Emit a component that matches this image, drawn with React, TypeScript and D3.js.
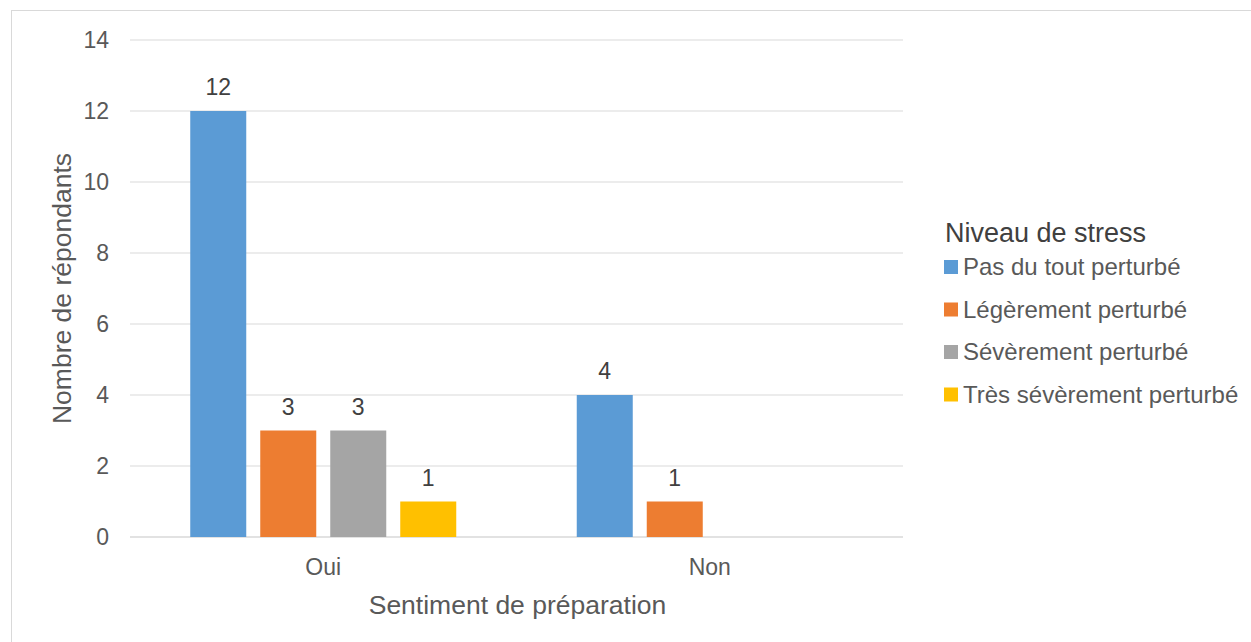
import React, { useEffect, useRef } from 'react';
import * as d3 from 'd3';

const categories = ['Oui', 'Non'];
const seriesNames = ['Pas du tout perturbé', 'Légèrement perturbé', 'Sévèrement perturbé', 'Très sévèrement perturbé'];
const seriesColors = ['#5B9BD5', '#ED7D31', '#A5A5A5', '#FFC000'];
const pasDuTout = [12, 4];
const legerement = [3, 1];
const severement = [3, 0];
const tresSeverement = [1, 0];
const yTicks = [0, 2, 4, 6, 8, 10, 12, 14];

const seriesValues = [pasDuTout, legerement, severement, tresSeverement];

export default function App() {
  const svgRef = useRef<SVGSVGElement>(null);

  useEffect(() => {
    document.body.style.margin = '0';
    if (!svgRef.current) return;
    const width = 1251;
    const height = 642;
    const plot = { left: 130, right: 903, top: 40, bottom: 537 };
    const font = '"Liberation Sans", Arial, sans-serif';
    const textColor = '#595959';

    const svg = d3.select(svgRef.current)
      .attr('width', width)
      .attr('height', height)
      .style('font-family', font);
    svg.selectAll('*').remove();

    svg.append('rect')
      .attr('x', 0).attr('y', 0).attr('width', width).attr('height', height)
      .attr('fill', '#fff');

    // chart border
    svg.append('rect')
      .attr('x', 11.5).attr('y', 10.5).attr('width', 1260).attr('height', 660)
      .attr('fill', 'none').attr('stroke', '#D9D9D9').attr('stroke-width', 1);

    const y = d3.scaleLinear().domain([0, 14]).range([plot.bottom, plot.top]);
    const x0 = d3.scaleBand().domain(categories).range([plot.left, plot.right]);
    const barStep = 70;
    const barWidth = 56;

    // gridlines
    svg.append('g')
      .selectAll('line')
      .data(yTicks)
      .enter().append('line')
      .attr('x1', plot.left).attr('x2', plot.right)
      .attr('y1', d => y(d)).attr('y2', d => y(d))
      .attr('stroke', '#D9D9D9').attr('stroke-width', d => d === 0 ? 1.5 : 1);

    // y tick labels
    svg.append('g')
      .selectAll('text')
      .data(yTicks)
      .enter().append('text')
      .attr('x', 109).attr('y', d => y(d))
      .attr('dy', '0.35em')
      .attr('text-anchor', 'end')
      .attr('fill', textColor)
      .style('font-size', '23px')
      .text(d => d);

    // bars
    seriesValues.forEach((vals, si) => {
      const g = svg.append('g');
      categories.forEach((cat, ci) => {
        const center = x0(cat)! + x0.bandwidth() / 2;
        const bx = center - 2 * barStep + si * barStep + (barStep - barWidth) / 2;
        const v = vals[ci];
        if (v > 0) {
          g.append('rect')
            .attr('x', bx).attr('y', y(v))
            .attr('width', barWidth).attr('height', y(0) - y(v))
            .attr('fill', seriesColors[si]);
          g.append('text')
            .attr('x', bx + barWidth / 2).attr('y', y(v) - 16)
            .attr('text-anchor', 'middle')
            .attr('fill', '#404040')
            .style('font-size', '23px')
            .text(v);
        }
      });
    });

    // category labels
    svg.append('g')
      .selectAll('text')
      .data(categories)
      .enter().append('text')
      .attr('x', d => x0(d)! + x0.bandwidth() / 2)
      .attr('y', 575)
      .attr('text-anchor', 'middle')
      .attr('fill', textColor)
      .style('font-size', '23px')
      .text(d => d);

    // axis titles
    svg.append('text')
      .attr('x', (plot.left + plot.right) / 2 + 1).attr('y', 614)
      .attr('text-anchor', 'middle')
      .attr('fill', textColor)
      .style('font-size', '26.5px')
      .text('Sentiment de préparation');

    svg.append('text')
      .attr('transform', `translate(71,${(plot.top + plot.bottom) / 2}) rotate(-90)`)
      .attr('text-anchor', 'middle')
      .attr('fill', textColor)
      .style('font-size', '26.5px')
      .text('Nombre de répondants');

    // legend
    const legend = svg.append('g');
    legend.append('text')
      .attr('x', 945).attr('y', 242)
      .attr('fill', '#404040')
      .style('font-size', '27px')
      .text('Niveau de stress');
    seriesNames.forEach((name, i) => {
      const ly = 267 + i * 42.5;
      legend.append('rect')
        .attr('x', 944).attr('y', ly - 7).attr('width', 14).attr('height', 14)
        .attr('fill', seriesColors[i]);
      legend.append('text')
        .attr('x', 963).attr('y', ly)
        .attr('dy', '0.35em')
        .attr('fill', textColor)
        .style('font-size', '24px')
        .text(name);
    });
  }, []);

  return <svg ref={svgRef} style={{ display: 'block' }}></svg>;
}
